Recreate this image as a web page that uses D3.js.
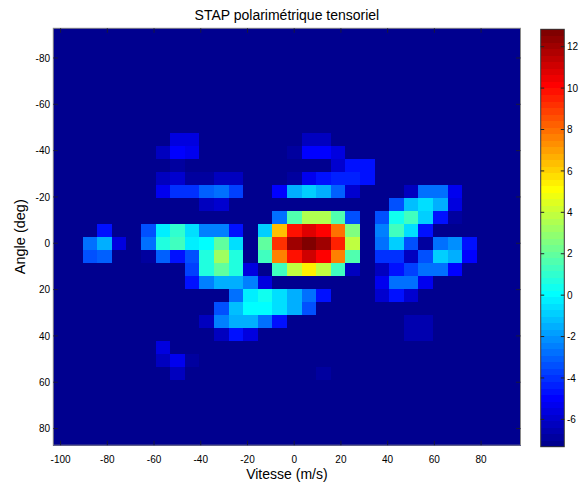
<!DOCTYPE html>
<html>
<head>
<meta charset="utf-8">
<script src="https://cdn.jsdelivr.net/npm/d3@7"></script>
<style>
body{margin:0;background:#fff;}
text{font-family:"Liberation Sans",Arial,sans-serif;fill:#000;}
</style>
</head>
<body>
<script>
var width=586, height=487;

// cell centres
var vitesse=[-100,-93.75,-87.5,-81.25,-75,-68.75,-62.5,-56.25,-50,-43.75,-37.5,-31.25,-25,-18.75,-12.5,-6.25,
             0,6.25,12.5,18.75,25,31.25,37.5,43.75,50,56.25,62.5,68.75,75,81.25,87.5,93.75];
var angle=[-90,-84.375,-78.75,-73.125,-67.5,-61.875,-56.25,-50.625,-45,-39.375,-33.75,-28.125,-22.5,-16.875,-11.25,-5.625,
           0,5.625,11.25,16.875,22.5,28.125,33.75,39.375,45,50.625,56.25,61.875,67.5,73.125,78.75,84.375];

// one row per angle, one value per vitesse
var stap=[
[-7.3,-7.3,-7.3,-7.3,-7.3,-7.3,-7.3,-7.3,-7.3,-7.3,-7.3,-7.3,-7.3,-7.3,-7.3,-7.3,-7.3,-7.3,-7.3,-7.3,-7.3,-7.3,-7.3,-7.3,-7.3,-7.3,-7.3,-7.3,-7.3,-7.3,-7.3,-7.3],
[-7.3,-7.3,-7.3,-7.3,-7.3,-7.3,-7.3,-7.3,-7.3,-7.3,-7.3,-7.3,-7.3,-7.3,-7.3,-7.3,-7.3,-7.3,-7.3,-7.3,-7.3,-7.3,-7.3,-7.3,-7.3,-7.3,-7.3,-7.3,-7.3,-7.3,-7.3,-7.3],
[-7.3,-7.3,-7.3,-7.3,-7.3,-7.3,-7.3,-7.3,-7.3,-7.3,-7.3,-7.3,-7.3,-7.3,-7.3,-7.3,-7.3,-7.3,-7.3,-7.3,-7.3,-7.3,-7.3,-7.3,-7.3,-7.3,-7.3,-7.3,-7.3,-7.3,-7.3,-7.3],
[-7.3,-7.3,-7.3,-7.3,-7.3,-7.3,-7.3,-7.3,-7.3,-7.3,-7.3,-7.3,-7.3,-7.3,-7.3,-7.3,-7.3,-7.3,-7.3,-7.3,-7.3,-7.3,-7.3,-7.3,-7.3,-7.3,-7.3,-7.3,-7.3,-7.3,-7.3,-7.3],
[-7.3,-7.3,-7.3,-7.3,-7.3,-7.3,-7.3,-7.3,-7.3,-7.3,-7.3,-7.3,-7.3,-7.3,-7.3,-7.3,-7.3,-7.3,-7.3,-7.3,-7.3,-7.3,-7.3,-7.3,-7.3,-7.3,-7.3,-7.3,-7.3,-7.3,-7.3,-7.3],
[-7.3,-7.3,-7.3,-7.3,-7.3,-7.3,-7.3,-7.3,-7.3,-7.3,-7.3,-7.3,-7.3,-7.3,-7.3,-7.3,-7.3,-7.3,-7.3,-7.3,-7.3,-7.3,-7.3,-7.3,-7.3,-7.3,-7.3,-7.3,-7.3,-7.3,-7.3,-7.3],
[-7.3,-7.3,-7.3,-7.3,-7.3,-7.3,-7.3,-7.3,-7.3,-7.3,-7.3,-7.3,-7.3,-7.3,-7.3,-7.3,-7.3,-7.3,-7.3,-7.3,-7.3,-7.3,-7.3,-7.3,-7.3,-7.3,-7.3,-7.3,-7.3,-7.3,-7.3,-7.3],
[-7.3,-7.3,-7.3,-7.3,-7.3,-7.3,-7.3,-7.3,-7.3,-7.3,-7.3,-7.3,-7.3,-7.3,-7.3,-7.3,-7.3,-7.3,-7.3,-7.3,-7.3,-7.3,-7.3,-7.3,-7.3,-7.3,-7.3,-7.3,-7.3,-7.3,-7.3,-7.3],
[-7.3,-7.3,-7.3,-7.3,-7.3,-7.3,-7.3,-7.3,-5.6,-5.7,-7.3,-7.3,-7.3,-7.3,-7.3,-7.3,-7.3,-6.1,-6.1,-7.3,-7.3,-7.3,-7.3,-7.3,-7.3,-7.3,-7.3,-7.3,-7.3,-7.3,-7.3,-7.3],
[-7.3,-7.3,-7.3,-7.3,-7.3,-7.3,-7.3,-6.1,-5.1,-5.4,-7.3,-7.3,-7.3,-7.3,-7.3,-7.3,-6.7,-5.1,-5.1,-5.6,-7.3,-7.3,-7.3,-7.3,-7.3,-7.3,-7.3,-7.3,-7.3,-7.3,-7.3,-7.3],
[-7.3,-7.3,-7.3,-7.3,-7.3,-7.3,-7.3,-7.3,-6.7,-7.3,-7.3,-7.3,-7.3,-7.3,-7.3,-7.3,-7.3,-7.3,-7.3,-5.9,-4.8,-4.6,-7.3,-7.3,-7.3,-7.3,-7.3,-7.3,-7.3,-7.3,-7.3,-7.3],
[-7.3,-7.3,-7.3,-7.3,-7.3,-7.3,-7.3,-6.3,-5.9,-6.7,-6.9,-6.3,-6.1,-7.3,-7.3,-7.3,-6.7,-5.2,-4.5,-4.3,-4.3,-4.5,-7.3,-7.3,-7.3,-7.3,-7.3,-7.3,-7.3,-7.3,-7.3,-7.3],
[-7.3,-7.3,-7.3,-7.3,-7.3,-7.3,-7.3,-5.4,-4.0,-4.0,-3.2,-2.6,-3.8,-7.3,-7.3,-5.0,-1.6,-0.9,-1.6,-3.2,-5.9,-7.3,-7.3,-7.3,-6.1,-2.9,-2.9,-5.4,-7.3,-7.3,-7.3,-7.3],
[-7.3,-7.3,-7.3,-7.3,-7.3,-7.3,-7.3,-7.3,-7.3,-7.3,-6.3,-5.9,-7.3,-7.3,-7.3,-7.3,-7.3,-7.3,-7.3,-7.3,-7.3,-7.3,-7.3,-3.5,-1.3,-0.4,-1.6,-5.6,-7.3,-7.3,-7.3,-7.3],
[-7.3,-7.3,-7.3,-7.3,-7.3,-7.3,-7.3,-7.3,-7.3,-7.3,-7.3,-7.3,-7.3,-7.3,-7.3,-2.7,1.5,3.4,3.4,1.5,-3.5,-7.3,-3.5,0.3,1.2,-0.9,-4.8,-6.7,-7.3,-7.3,-7.3,-7.3],
[-7.3,-7.3,-7.3,-4.8,-7.3,-7.3,-3.5,-0.1,0.9,-0.7,-2.3,-2.3,-4.8,-7.3,-1.0,6.3,9.7,10.9,10.3,7.8,2.5,-7.3,-2.3,1.2,-0.5,-4.8,-7.3,-7.3,-7.3,-7.3,-7.3,-7.3],
[-7.3,-7.3,-2.7,-1.6,-5.7,-7.3,-2.7,0.7,1.4,-0.2,0.1,2.1,-0.7,-7.3,2.1,9.1,11.9,12.8,12.2,9.4,4.0,-7.3,-2.6,-1.0,-3.5,-6.9,-2.9,-2.0,-4.8,-7.3,-7.3,-7.3],
[-7.3,-7.3,-3.5,-3.2,-7.3,-7.3,-6.7,-3.2,-4.8,-3.5,0.7,3.1,0.7,-7.3,1.2,7.5,10.0,11.2,10.3,7.5,1.8,-7.3,-4.0,-4.0,-6.3,-3.5,-1.0,-1.6,-5.1,-7.3,-7.3,-7.3],
[-7.3,-7.3,-7.3,-7.3,-7.3,-7.3,-7.3,-7.3,-7.3,-3.8,0.7,2.1,0.7,-5.5,-7.3,1.2,4.0,5.3,4.0,1.2,-6.1,-7.3,-6.3,-4.8,-3.8,-2.9,-2.9,-5.1,-7.3,-7.3,-7.3,-7.3],
[-7.3,-7.3,-7.3,-7.3,-7.3,-7.3,-7.3,-7.3,-7.3,-4.8,-2.3,-1.6,-1.6,-2.4,-5.7,-7.3,-7.3,-7.3,-7.3,-7.3,-7.3,-7.3,-5.4,-2.9,-2.9,-5.4,-7.3,-7.3,-7.3,-7.3,-7.3,-7.3],
[-7.3,-7.3,-7.3,-7.3,-7.3,-7.3,-7.3,-7.3,-7.3,-7.3,-7.3,-7.3,-2.6,-0.1,0.3,-0.4,-1.6,-2.6,-4.8,-7.3,-7.3,-7.3,-5.9,-4.8,-5.9,-7.3,-7.3,-7.3,-7.3,-7.3,-7.3,-7.3],
[-7.3,-7.3,-7.3,-7.3,-7.3,-7.3,-7.3,-7.3,-7.3,-7.3,-7.3,-3.5,-1.3,0.0,0.1,-0.7,-1.6,-3.5,-7.3,-7.3,-7.3,-7.3,-7.3,-7.3,-7.3,-7.3,-7.3,-7.3,-7.3,-7.3,-7.3,-7.3],
[-7.3,-7.3,-7.3,-7.3,-7.3,-7.3,-7.3,-7.3,-7.3,-7.3,-6.1,-2.3,-1.6,-1.6,-2.9,-4.8,-7.3,-7.3,-7.3,-7.3,-7.3,-7.3,-7.3,-7.3,-6.5,-6.5,-7.3,-7.3,-7.3,-7.3,-7.3,-7.3],
[-7.3,-7.3,-7.3,-7.3,-7.3,-7.3,-7.3,-7.3,-7.3,-7.3,-7.3,-6.1,-4.8,-5.6,-7.3,-7.3,-7.3,-7.3,-7.3,-7.3,-7.3,-7.3,-7.3,-7.3,-6.5,-6.5,-7.3,-7.3,-7.3,-7.3,-7.3,-7.3],
[-7.3,-7.3,-7.3,-7.3,-7.3,-7.3,-7.3,-5.7,-7.3,-7.3,-7.3,-7.3,-7.3,-7.3,-7.3,-7.3,-7.3,-7.3,-7.3,-7.3,-7.3,-7.3,-7.3,-7.3,-7.3,-7.3,-7.3,-7.3,-7.3,-7.3,-7.3,-7.3],
[-7.3,-7.3,-7.3,-7.3,-7.3,-7.3,-7.3,-6.1,-5.4,-6.7,-7.3,-7.3,-7.3,-7.3,-7.3,-7.3,-7.3,-7.3,-7.3,-7.3,-7.3,-7.3,-7.3,-7.3,-7.3,-7.3,-7.3,-7.3,-7.3,-7.3,-7.3,-7.3],
[-7.3,-7.3,-7.3,-7.3,-7.3,-7.3,-7.3,-7.3,-6.1,-7.3,-7.3,-7.3,-7.3,-7.3,-7.3,-7.3,-7.3,-7.3,-6.9,-7.3,-7.3,-7.3,-7.3,-7.3,-7.3,-7.3,-7.3,-7.3,-7.3,-7.3,-7.3,-7.3],
[-7.3,-7.3,-7.3,-7.3,-7.3,-7.3,-7.3,-7.3,-7.3,-7.3,-7.3,-7.3,-7.3,-7.3,-7.3,-7.3,-7.3,-7.3,-7.3,-7.3,-7.3,-7.3,-7.3,-7.3,-7.3,-7.3,-7.3,-7.3,-7.3,-7.3,-7.3,-7.3],
[-7.3,-7.3,-7.3,-7.3,-7.3,-7.3,-7.3,-7.3,-7.3,-7.3,-7.3,-7.3,-7.3,-7.3,-7.3,-7.3,-7.3,-7.3,-7.3,-7.3,-7.3,-7.3,-7.3,-7.3,-7.3,-7.3,-7.3,-7.3,-7.3,-7.3,-7.3,-7.3],
[-7.3,-7.3,-7.3,-7.3,-7.3,-7.3,-7.3,-7.3,-7.3,-7.3,-7.3,-7.3,-7.3,-7.3,-7.3,-7.3,-7.3,-7.3,-7.3,-7.3,-7.3,-7.3,-7.3,-7.3,-7.3,-7.3,-7.3,-7.3,-7.3,-7.3,-7.3,-7.3],
[-7.3,-7.3,-7.3,-7.3,-7.3,-7.3,-7.3,-7.3,-7.3,-7.3,-7.3,-7.3,-7.3,-7.3,-7.3,-7.3,-7.3,-7.3,-7.3,-7.3,-7.3,-7.3,-7.3,-7.3,-7.3,-7.3,-7.3,-7.3,-7.3,-7.3,-7.3,-7.3],
[-7.3,-7.3,-7.3,-7.3,-7.3,-7.3,-7.3,-7.3,-7.3,-7.3,-7.3,-7.3,-7.3,-7.3,-7.3,-7.3,-7.3,-7.3,-7.3,-7.3,-7.3,-7.3,-7.3,-7.3,-7.3,-7.3,-7.3,-7.3,-7.3,-7.3,-7.3,-7.3]
];

var xTicks=[-100,-80,-60,-40,-20,0,20,40,60,80];
var yTicks=[-80,-60,-40,-20,0,20,40,60,80];
var cTicks=[-6,-4,-2,0,2,4,6,8,10,12];
var cRange=[-7.32,12.84];

// plot box
var L=53.3, R=520.5, T=28.3, Bt=445.2;
var dv=(vitesse[1]-vitesse[0])/2, da=(angle[1]-angle[0])/2;

var x=d3.scaleLinear().domain([vitesse[0]-dv, vitesse[vitesse.length-1]+dv]).range([L,R]);
var y=d3.scaleLinear().domain([angle[0]-da, angle[angle.length-1]+da]).range([T,Bt]);

// matlab jet(64)
function jet64(){
    var m=64, n=16, u=[], i, cols=[];
    for(i=1;i<=n;i++) u.push(i/n);
    for(i=1;i<n;i++) u.push(1);
    for(i=n;i>=1;i--) u.push(i/n);
    for(i=0;i<m;i++) cols.push([0,0,0]);
    for(i=0;i<u.length;i++){
        var g=8+i, r=g+n, b=g-n;      // 0-based rows
        if(g<m) cols[g][1]=u[i];
        if(r<m) cols[r][0]=u[i];
        if(b>=0) cols[b][2]=u[i];
    }
    return cols.map(function(c){return d3.rgb(c[0]*255,c[1]*255,c[2]*255).toString();});
}
var jet=jet64();
function colour(v){
    var k=Math.floor((v-cRange[0])/(cRange[1]-cRange[0])*64);
    return jet[Math.max(0,Math.min(63,k))];
}

var svg=d3.select("body").append("svg")
    .attr("width",width).attr("height",height);

// cells
var cells=[];
stap.forEach(function(row,j){
    row.forEach(function(v,i){ cells.push({v:vitesse[i],a:angle[j],z:v}); });
});
svg.append("g").attr("shape-rendering","crispEdges")
   .selectAll("rect").data(cells).enter().append("rect")
   .attr("x",function(d){return x(d.v-dv);})
   .attr("y",function(d){return y(d.a-da);})
   .attr("width",function(d){return x(d.v+dv)-x(d.v-dv)+0.5;})
   .attr("height",function(d){return y(d.a+da)-y(d.a-da)+0.5;})
   .attr("fill",function(d){return colour(d.z);});

// frame + inward ticks
svg.append("rect").attr("x",L).attr("y",T).attr("width",R-L).attr("height",Bt-T)
   .attr("fill","none").attr("stroke","#8a8a8a").attr("stroke-width",1);

var tk=svg.append("g").attr("stroke","#1a1a3a").attr("stroke-width",1);
xTicks.forEach(function(t){
    tk.append("line").attr("x1",x(t)).attr("x2",x(t)).attr("y1",Bt).attr("y2",Bt-4.5);
    tk.append("line").attr("x1",x(t)).attr("x2",x(t)).attr("y1",T).attr("y2",T+4.5);
});
yTicks.forEach(function(t){
    tk.append("line").attr("y1",y(t)).attr("y2",y(t)).attr("x1",L).attr("x2",L+4.5);
    tk.append("line").attr("y1",y(t)).attr("y2",y(t)).attr("x1",R).attr("x2",R-4.5);
});

svg.append("g").selectAll("text").data(xTicks).enter().append("text")
   .attr("x",function(d){return x(d);}).attr("y",463)
   .attr("text-anchor","middle").attr("font-size",10).text(function(d){return d;});
svg.append("g").selectAll("text").data(yTicks).enter().append("text")
   .attr("x",50).attr("y",function(d){return y(d)+3.6;})
   .attr("text-anchor","end").attr("font-size",10).text(function(d){return d;});

// titles
svg.append("text").attr("x",(L+R)/2).attr("y",19.5).attr("text-anchor","middle")
   .attr("font-size",14).text("STAP polarimétrique tensoriel");
svg.append("text").attr("x",(L+R)/2).attr("y",479).attr("text-anchor","middle")
   .attr("font-size",14).text("Vitesse (m/s)");
svg.append("text").attr("transform","translate(25,"+((T+Bt)/2)+") rotate(-90)")
   .attr("text-anchor","middle").attr("font-size",14.5).text("Angle (deg)");

// colorbar
var cbL=540.7, cbR=564.3, cbT=29.3, cbB=446.7;
var cy=d3.scaleLinear().domain(cRange).range([cbB,cbT]);
var step=(cRange[1]-cRange[0])/64;
svg.append("g").attr("shape-rendering","crispEdges")
   .selectAll("rect").data(jet).enter().append("rect")
   .attr("x",cbL).attr("width",cbR-cbL)
   .attr("y",function(c,k){return cy(cRange[0]+(k+1)*step);})
   .attr("height",function(c,k){return cy(cRange[0]+k*step)-cy(cRange[0]+(k+1)*step)+0.5;})
   .attr("fill",function(c){return c;});
svg.append("rect").attr("x",cbL).attr("y",cbT).attr("width",cbR-cbL).attr("height",cbB-cbT)
   .attr("fill","none").attr("stroke","#333").attr("stroke-width",1);
var ctk=svg.append("g").attr("stroke","#222").attr("stroke-width",1);
cTicks.forEach(function(t){
    ctk.append("line").attr("x1",cbL).attr("x2",cbL+3.5).attr("y1",cy(t)).attr("y2",cy(t));
    ctk.append("line").attr("x1",cbR).attr("x2",cbR-3.5).attr("y1",cy(t)).attr("y2",cy(t));
});
svg.append("g").selectAll("text").data(cTicks).enter().append("text")
   .attr("x",567).attr("y",function(d){return cy(d)+3.6;})
   .attr("font-size",10).text(function(d){return d;});
</script>
</body>
</html>
